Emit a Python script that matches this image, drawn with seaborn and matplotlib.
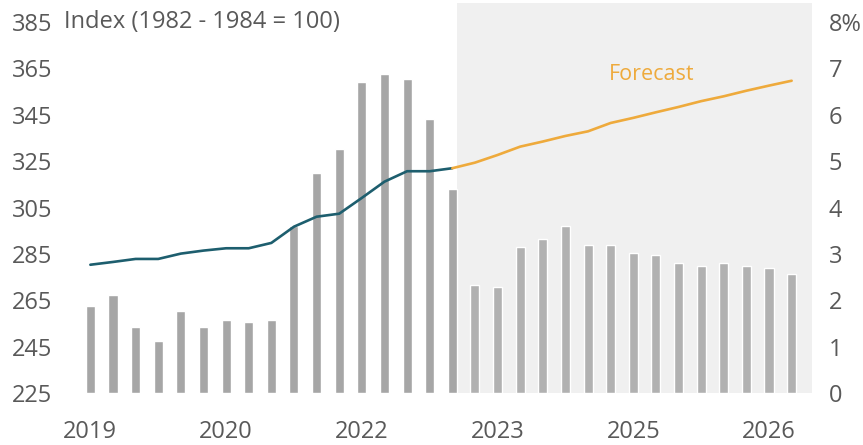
import numpy as np
import pandas as pd
import matplotlib
matplotlib.use("Agg")
import matplotlib.pyplot as plt
import seaborn as sns

# -------------------------------
# Data (quarterly, 2019Q1 - 2026Q4)
# -------------------------------
quarters = [f"{y}Q{q}" for y in range(2019, 2027) for q in range(1, 5)]

yoy_pct = [1.88, 2.11, 1.42, 1.13, 1.77, 1.42, 1.59, 1.54,
           1.59, 3.61, 4.75, 5.27, 6.71, 6.88, 6.77, 5.91,
           4.41, 2.34, 2.28, 3.15, 3.32, 3.61, 3.20, 3.20,
           3.03, 2.97, 2.80, 2.74, 2.80, 2.74, 2.69, 2.57]

index_hist = [280.4, 281.6, 282.9, 282.9, 285.2, 286.5, 287.5, 287.5,
              289.8, 296.8, 301.1, 302.4, 309.2, 316.2, 320.7, 320.7,
              322.0]
index_fcst = [322.0, 324.4, 327.7, 331.3, 333.5, 335.9, 337.9, 341.5,
              343.7, 346.1, 348.4, 350.9, 353.0, 355.4, 357.6, 359.7]

n_hist = len(index_hist)
tick_pos = [0, 6, 12, 18, 24, 30]
tick_labels = ["2019", "2020", "2022", "2023", "2025", "2026"]

bars = pd.DataFrame({
    "pos": np.arange(len(quarters)),
    "pct": yoy_pct,
    "period": ["hist"] * n_hist + ["fcst"] * (len(quarters) - n_hist),
})
line_hist = pd.DataFrame({"pos": np.arange(n_hist), "idx": index_hist})
line_fcst = pd.DataFrame({"pos": np.arange(n_hist - 1, n_hist - 1 + len(index_fcst)),
                          "idx": index_fcst})

# -------------------------------
# Style
# -------------------------------
sns.set_style("white")
plt.rcParams["font.family"] = ["Open Sans", "DejaVu Sans"]
text_col = "#595959"
fs = 17

fig = plt.figure(figsize=(8.63, 4.45), dpi=100)
ax_bar = fig.add_axes([70 / 863, 0.1162, (812 - 70) / 863, 0.876])
ax_line = ax_bar.twinx()

# shaded forecast region + bars (right axis, %)
ax_bar.axvspan(n_hist - 1 + 0.2, 31.9, color="#f0f0f0", zorder=0, lw=0)
sns.barplot(data=bars, x="pos", y="pct", hue="period", native_scale=True,
            palette={"hist": "#a6a6a6", "fcst": "#b1b1b1"}, width=0.4,
            dodge=False, legend=False, saturation=1, ax=ax_bar, zorder=2)
ax_bar.set_ylim(0, 8.4)
ax_bar.set_yticks(range(0, 9))
ax_bar.set_yticklabels([str(v) for v in range(0, 8)] + ["8%"])
ax_bar.yaxis.tick_right()

# index line (left axis)
sns.lineplot(data=line_hist, x="pos", y="idx", color="#1d5e6e", lw=1.9, ax=ax_line)
sns.lineplot(data=line_fcst, x="pos", y="idx", color="#eeaa3c", lw=1.9, ax=ax_line)
ax_line.set_ylim(225, 393)
ax_line.set_yticks(range(225, 386, 20))
ax_line.yaxis.tick_left()
ax_line.text(24.8, 362.6, "Forecast", color="#eeaa3c", fontsize=15.5,
             ha="center", va="center")
ax_line.text(-1.17, 385, "Index (1982 - 1984 = 100)", color=text_col,
             fontsize=fs, ha="left", va="center")

# draw line above bars
ax_line.set_zorder(ax_bar.get_zorder() + 1)
ax_line.patch.set_visible(False)

for a in (ax_bar, ax_line):
    a.set_xlabel("")
    a.set_ylabel("")
    for s in a.spines.values():
        s.set_visible(False)
    a.tick_params(length=0, labelsize=fs, colors=text_col)

ax_bar.set_xlim(-0.9, 31.9)
ax_bar.set_xticks(tick_pos)
ax_bar.set_xticklabels(tick_labels)
ax_bar.tick_params(axis="x", pad=19)
ax_bar.tick_params(axis="y", pad=12)
ax_line.tick_params(axis="y", pad=13)

fig.savefig("out.png", dpi=100)
